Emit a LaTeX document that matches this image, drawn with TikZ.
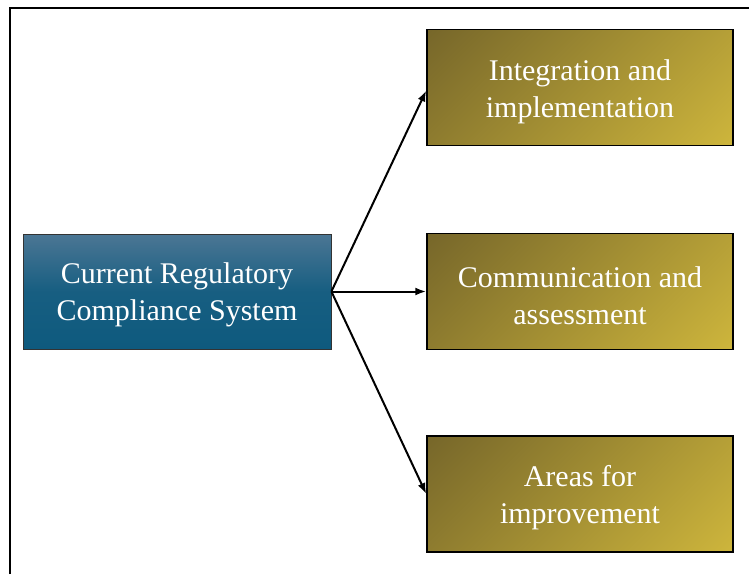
\documentclass[tikz,border=0pt]{standalone}
\usepackage{fontspec}
\setmainfont{Liberation Serif}
\usetikzlibrary{arrows.meta}
\definecolor{bluetop}{HTML}{4B7694}
\definecolor{bluebot}{HTML}{0E5A7E}
\definecolor{golddark}{HTML}{77672A}
\definecolor{goldlight}{HTML}{CDB53C}
\pgfdeclarehorizontalshading{goldshade}{100bp}{color(0bp)=(golddark); color(15bp)=(golddark); color(85bp)=(goldlight); color(100bp)=(goldlight)}
\tikzset{
  boxtext/.style={text=white, align=center, font=\fontsize{30}{37}\selectfont, inner sep=0pt},
  srcbox/.style={draw=black!80, line width=0.8pt, top color=bluetop, bottom color=bluebot, middle color=bluebot!85!bluetop,
    minimum width=308pt, minimum height=115pt, inner sep=0pt},
  goalbox/.style={draw=black, line width=1.5pt, shading=goldshade, shading angle=-45,
    minimum width=306pt, minimum height=116pt, inner sep=0pt},
  link/.style={-{Latex[length=11pt,width=8pt]}, line width=2pt}
}
\begin{document}
\begin{tikzpicture}[x=1pt,y=1pt]
\useasboundingbox (0,0) rectangle (749,574);
\draw[line width=2pt] (10,0) -- (10,566) -- (749,566);
\node[srcbox, label={[boxtext, yshift=-3pt]center:Current Regulatory\\Compliance System}] (src) at (177,282.5) {};
\node[goalbox, label={[boxtext, yshift=-4pt]center:Integration and\\implementation}] (g1) at (580,486.5) {};
\node[goalbox, label={[boxtext, yshift=-4pt]center:Communication and\\assessment}] (g2) at (580,282.5) {};
\node[goalbox, label={[boxtext, yshift=-4pt]center:Areas for\\improvement}] (g3) at (580,80) {};
\coordinate (hub) at (src.east);
\draw[link] (hub) -- ([yshift=-3pt]g1.west);
\draw[link] (hub) -- (g2.west);
\draw[link] (hub) -- (g3.west);
\end{tikzpicture}
\end{document}
